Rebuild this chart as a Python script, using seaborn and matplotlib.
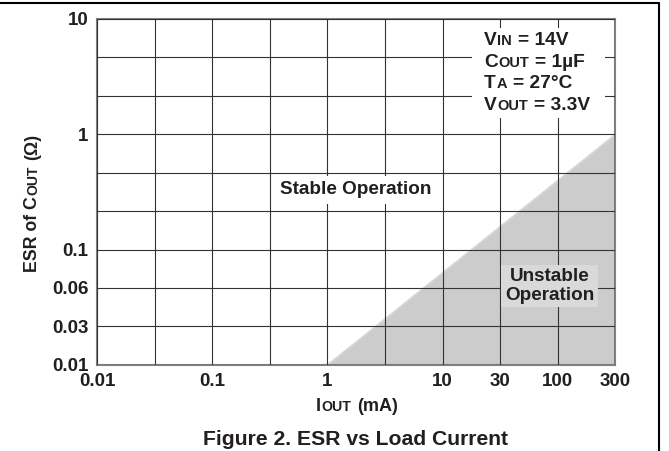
import numpy as np
import matplotlib
matplotlib.use("Agg")
import matplotlib.pyplot as plt
import seaborn as sns
from matplotlib import transforms
from matplotlib.patches import Rectangle
from matplotlib.lines import Line2D

# Axis ticks (the chart uses an uneven log grid)
x_tick_values = [0.01, 0.1, 1, 10, 30, 100, 300]
x_tick_labels = ["0.01", "0.1", "1", "10", "30", "100", "300"]
y_tick_values = [0.01, 0.03, 0.06, 0.1, 1, 10]
y_tick_labels = ["0.01", "0.03", "0.06", "0.1", "1", "10"]

# Grid slot of each tick value
x_slots = [0, 2, 4, 6, 7, 8, 9]
y_slots = [0, 1, 2, 3, 6, 9]

# Stability boundary: IOUT (mA) vs ESR (ohm)
boundary_iout = [1, 300]
boundary_esr = [0.01, 1]

# Test conditions: (main, small caps, rest)
conditions = [
    ("V", "IN", " = 14V"),
    ("C", "OUT", " = 1µF"),
    ("T", "A", " = 27°C"),
    ("V", "OUT", " = 3.3V"),
]

TXT = "#231f20"


def make_scale(knots, slots):
    lk = np.log10(knots)

    def fwd(v):
        v = np.log10(np.clip(np.asarray(v, dtype=float), 1e-9, None))
        return np.interp(v, lk, slots)

    def inv(p):
        return 10 ** np.interp(np.asarray(p, dtype=float), slots, lk)

    return fwd, inv


sns.set_theme(style="white")
plt.rcParams["font.family"] = ["Liberation Sans", "DejaVu Sans"]

fig, ax = plt.subplots(figsize=(6.69, 4.51), dpi=100)
fig.subplots_adjust(left=0.145, right=0.920, top=0.958, bottom=0.191)

xf, xi = make_scale(x_tick_values, x_slots)
yf, yi = make_scale(y_tick_values, y_slots)
ax.set_xscale("function", functions=(xf, xi))
ax.set_yscale("function", functions=(yf, yi))

# Unstable region
ax.fill_between(boundary_iout, boundary_esr, boundary_esr[0],
                color="#cccccc", lw=0, zorder=1)
sns.lineplot(x=boundary_iout, y=boundary_esr, color="#cccccc", lw=0.8,
             ax=ax, zorder=1)

ax.set_xlim(x_tick_values[0], x_tick_values[-1])
ax.set_ylim(y_tick_values[0], y_tick_values[-1])

# grid on every slot
ax.set_xticks(xi(np.arange(x_slots[-1] + 1)), minor=True)
ax.set_yticks(yi(np.arange(y_slots[-1] + 1)), minor=True)
ax.set_xticks(x_tick_values, x_tick_labels)
ax.set_yticks(y_tick_values, y_tick_labels)
ax.grid(True, which="both", color="#333333", lw=0.8)
ax.set_axisbelow(False)
ax.tick_params(which="both", length=0, pad=6, labelsize=13.5,
               labelcolor=TXT)
for lbl in ax.get_xticklabels() + ax.get_yticklabels():
    lbl.set_fontweight("bold")
for sp in ax.spines.values():
    sp.set_color("#808080")
    sp.set_linewidth(1.5)
ax.set_xlabel("")
ax.set_ylabel("")


def rich(x, y, runs, transform, rotation=0, align="center"):
    # place text runs of different sizes one after another
    r = fig.canvas.get_renderer()
    parts, total = [], 0.0
    for s, size in runs:
        lead = len(s) - len(s.lstrip(" "))
        gap = lead * 0.278 * size * fig.dpi / 72 + (0.8 if total else 0.0)
        t = fig.text(0, 0, s.strip(" "), fontsize=size, fontweight="bold",
                     color=TXT, zorder=5)
        w = t.get_window_extent(r).width
        parts.append((t, total + gap))
        total += gap + w
    start = -total / 2 if align == "center" else 0.0
    c, s_ = np.cos(np.radians(rotation)), np.sin(np.radians(rotation))
    for t, off in parts:
        d = start + off
        t.set_transform(transforms.offset_copy(transform, fig=fig,
                                               x=d * c, y=d * s_, units="dots"))
        t.set_position((x, y))
        t.set_rotation(rotation)
        t.set_rotation_mode("anchor")
        t.set_ha("left")
        t.set_va("baseline")


# conditions box
ax.add_patch(Rectangle((0.723, 0.714), 0.256, 0.26, transform=ax.transAxes,
                       fc="white", ec="none", zorder=3))
for yb, (a, b, c) in zip([0.925, 0.861, 0.801, 0.737], conditions):
    rich(0.746, yb, [(a, 13.8), (b, 10.5), (c, 13.8)], ax.transAxes,
         align="left")

ax.text(0.4995, 0.506, "Stable Operation", transform=ax.transAxes,
        ha="center", va="center", fontsize=13.6, fontweight="bold", color=TXT,
        zorder=4, bbox=dict(boxstyle="square,pad=0.3", fc="white", ec="none"))
ax.text(0.873, 0.228, "Unstable\nOperation", transform=ax.transAxes,
        ha="center", va="center", fontsize=13.6, fontweight="bold", color=TXT,
        linespacing=1.1,
        zorder=4, bbox=dict(boxstyle="square,pad=0.2", fc="#d9d9d9", ec="none"))

# axis labels and caption
rich(0.534, 0.0887, [("I", 13), ("OUT", 10.2), (" (mA)", 13)], fig.transFigure)
rich(0.0553, 0.55, [("ESR of C", 12.8), ("OUT", 10), (" (Ω)", 12.8)],
     fig.transFigure, rotation=90)
fig.text(0.531, 0.0133, "Figure 2. ESR vs Load Current", ha="center",
         va="baseline", fontsize=15.2, fontweight="bold", color=TXT)

# page frame
fig.add_artist(Line2D([0, 0.985], [0.9933, 0.9933], color="black", lw=1.5,
                      transform=fig.transFigure))
fig.add_artist(Line2D([0.985, 0.985], [0, 0.9933], color="black", lw=1.5,
                      transform=fig.transFigure))

fig.savefig("out.png", dpi=100)
